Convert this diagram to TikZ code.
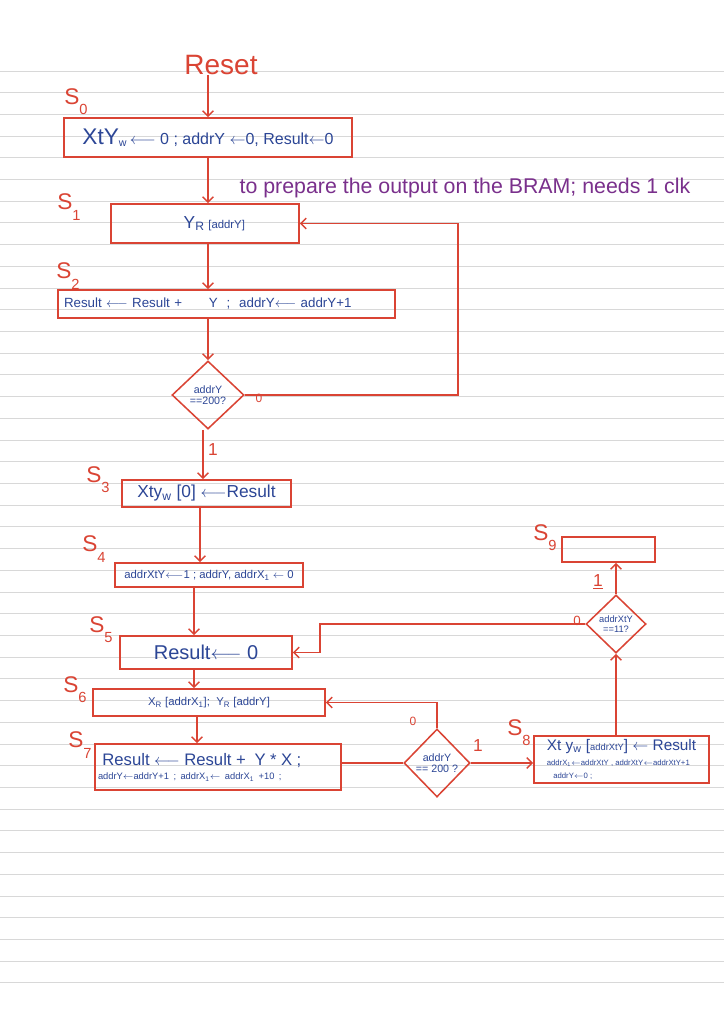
\documentclass[tikz,border=0pt]{standalone}
\usepackage{fontspec}
\setmainfont{Liberation Sans}
\usetikzlibrary{shapes.geometric,arrows.meta}
\definecolor{pen}{HTML}{DA4434}
\definecolor{ink}{HTML}{2C4696}
\definecolor{note}{HTML}{7A308C}
\definecolor{rulec}{HTML}{D8D8D8}
\newcommand{\la}{\ensuremath{\longleftarrow}}
\newcommand{\sa}{\ensuremath{\leftarrow}}
\newcommand{\sbs}[1]{\textsubscript{#1}}
\newcommand{\fs}[1]{\fontsize{#1}{#1}\selectfont}
\newcommand{\SL}[1]{S\raisebox{-0.45em}{\fs{11}#1}}
\begin{document}
\begin{tikzpicture}[x=0.75pt,y=-0.75pt,
 box/.style={draw=pen,line width=1.15pt,text=ink,inner sep=2pt},
 dia/.style={draw=pen,line width=1.15pt,diamond,text=ink,inner sep=0pt,align=center,font=\fs{8}},
 flow/.style={draw=pen,line width=1.15pt,-{Straight Barb[length=4pt,width=8pt]}},
 wire/.style={draw=pen,line width=1.15pt},
 slabel/.style={text=pen,font=\fs{17},inner sep=0pt},
 tag/.style={text=pen,inner sep=0pt}]

\fill[white] (0,0) rectangle (724,1024);
\useasboundingbox (0,0) rectangle (724,1024);
\foreach \i in {0,...,42} \draw[rulec,line width=0.75pt] (0,{floor(71+\i*21.714)+0.5}) -- (724,{floor(71+\i*21.714)+0.5});

% title
\node[text=pen,font=\fs{21},inner sep=0pt] (reset) at (221,65) {Reset};

% state labels
\node[slabel] (l0) at (76,102) {\SL{0}};
\node[slabel] (l1) at (69,207) {\SL{1}};
\node[slabel] (l2) at (68,276) {\SL{2}};
\node[slabel] (l3) at (98,480) {\SL{3}};
\node[slabel] (l4) at (94,549) {\SL{4}};
\node[slabel] (l5) at (101,630) {\SL{5}};
\node[slabel] (l6) at (75,690) {\SL{6}};
\node[slabel] (l7) at (80,745) {\SL{7}};
\node[slabel] (l8) at (519,733) {\SL{8}};
\node[slabel] (l9) at (545,538) {\SL{9}};

% annotation
\node[text=note,font=\fs{16},inner sep=0pt] (note) at (465,188) {to prepare the output on the BRAM; needs 1 clk};

% boxes
\node[box,minimum width=288*0.75pt,minimum height=39*0.75pt,font=\fs{12}] (s0) at (208,137.5)
  {{\fs{17}XtY}\sbs{w}\,\la\ 0 ; addrY \sa 0, Result\sa 0};
\node[box,minimum width=188*0.75pt,minimum height=39*0.75pt] (s1) at (205,223.5)
  {\hspace{14pt}{\fs{13}Y\sbs{R}} {\fs{8.5}[addrY]}};
\node[box,text width=325*0.75pt,inner xsep=6*0.75pt,minimum height=28*0.75pt,align=left,font=\fs{10}] (s2) at (226.5,304)
  {Result \la\ Result +\qquad Y \ ;\ \ addrY\la\ addrY+1};
\node[box,minimum width=169*0.75pt,minimum height=27*0.75pt,font=\fs{13}] (s3) at (206.5,493.5)
  {Xty\sbs{w} [0] \la Result};
\node[box,minimum width=188*0.75pt,minimum height=24*0.75pt,font=\fs{8.5}] (s4) at (209,575)
  {addrXtY\la 1 ; addrY, addrX\sbs{1} \sa\ 0};
\node[box,minimum width=172*0.75pt,minimum height=33*0.75pt,font=\fs{15}] (s5) at (206,652.5)
  {Result\la\ 0};
\node[box,minimum width=232*0.75pt,minimum height=27*0.75pt,font=\fs{8.5}] (s6) at (209,702.5)
  {X\sbs{R} [addrX\sbs{1}];\ \ Y\sbs{R} [addrY]};
\node[box,text width=240*0.75pt,inner xsep=3*0.75pt,minimum height=46*0.75pt,align=left] (s7) at (218,767)
  {{\fs{12.5}\ Result \la\ Result +\ \ Y * X ;}\\[-1pt] {\fs{7}addrY\sa addrY+1 ; addrX\sbs{1}\sa\ addrX\sbs{1} +10 ;}};
\node[box,minimum width=175*0.75pt,minimum height=47*0.75pt,align=left,inner sep=1pt] (s8) at (621.5,759.5)
  {{\fs{11.5}Xt y\sbs{w} [{\fs{7}addrXtY}] \sa\ Result}\\[-1pt] {\fs{5.8}addrX\sbs{1}\sa addrXtY , addrXtY\sa addrXtY+1}\\[-2pt] {\fs{5.8}\ \ \ addrY\sa 0 ;}};
\node[box,minimum width=93*0.75pt,minimum height=25*0.75pt] (s9) at (608.5,549.5) {};

% decisions
\node[dia,minimum width=72*0.75pt,minimum height=68*0.75pt] (d1) at (208,395) {addrY\\==200?};
\node[dia,minimum width=66*0.75pt,minimum height=68*0.75pt] (d2) at (437,763) {addrY\\== 200 ?};
\node[dia,minimum width=60*0.75pt,minimum height=58*0.75pt,font=\fs{7}] (d3) at (616,624) {addrXtY\\==11?};

% connectors
\draw[flow] (s0.north |- reset.south) -- (s0.north);
\draw[flow] (s0.south) -- (s0.south |- s1.north);
\draw[flow] ([xshift=3*0.75pt]s1.south) -- ([xshift=3*0.75pt]s1.south |- s2.north);
\draw[flow] (d1.north |- s2.south) -- (d1.north);
\draw[flow] (d1.east) -- ++(213,0) |- (s1.east);
\draw[flow] ([xshift=-5*0.75pt]d1.south) -- ([xshift=-5*0.75pt]d1.south |- s3.north);
\draw[flow] ([xshift=-6.5*0.75pt]s3.south) -- ([xshift=-6.5*0.75pt]s3.south |- s4.north);
\draw[flow] ([xshift=-12*0.75pt]s5.north |- s4.south) -- ([xshift=-12*0.75pt]s5.north);
\draw[flow] ([xshift=-12*0.75pt]s5.south) -- ([xshift=-12*0.75pt]s5.south |- s6.north);
\draw[flow] ([xshift=-12*0.75pt]s6.south) -- ([xshift=-12*0.75pt]s6.south |- s7.north);
\draw[wire] (s7.east |- d2.west) -- (d2.west);
\draw[flow] (d2.north) |- (s6.east);
\draw[flow] (d2.east) -- (d2.east -| s8.west);
\draw[flow] (d3.south |- s8.north) -- (d3.south);
\draw[flow] (d3.west) -- ++(-265,0) |- (s5.east);
\draw[flow] (d3.north) -- (d3.north |- s9.south);

% branch tags
\node[tag,font=\fs{9}] (t1a) at (259,398) {0};
\node[tag,font=\fs{13}] (t1b) at (213,450) {1};
\node[tag,font=\fs{9}] (t2a) at (413,721) {0};
\node[tag,font=\fs{13}] (t2b) at (478,746) {1};
\node[tag,font=\fs{10}] (t3a) at (577,621) {0};
\node[tag,font=\fs{13}] (t3b) at (598,582) {\underline{1}};
\end{tikzpicture}
\end{document}
